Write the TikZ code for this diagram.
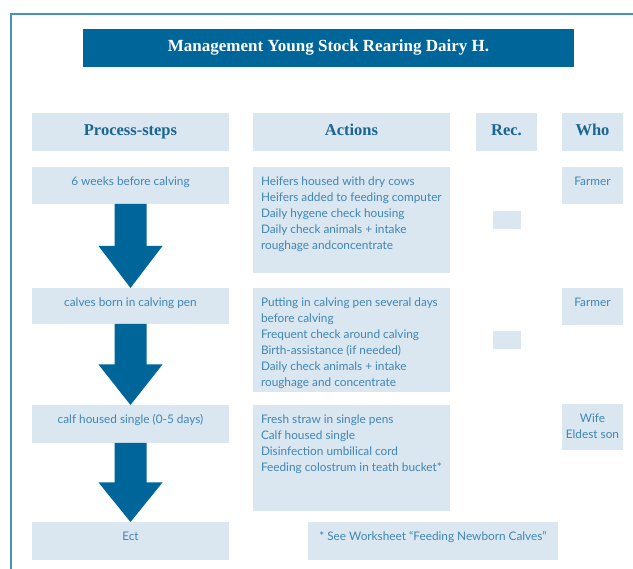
\documentclass[tikz,border=0pt]{standalone}
\usepackage{fontspec}
\setmainfont{Liberation Serif}
\newfontfamily\bodyfont{Lato}
\usetikzlibrary{calc}
\definecolor{frame line color}{HTML}{4A90BF}
\definecolor{title color}{HTML}{00669A}
\definecolor{cell color}{HTML}{DAE6F0}
\definecolor{header text color}{HTML}{1B6593}
\definecolor{body text color}{HTML}{3F86B3}
\tikzset{
    x={1pt},
    y={-1pt},
    frame line/.style={
        draw=frame line color,
        line width={1.5pt},
    },
    cell/.style 2 args={
        fill=cell color,
        draw=none,
        anchor=north west,
        inner sep=0pt,
        outer sep=0pt,
        minimum width={#1},
        minimum height={#2},
    },
    title box/.style 2 args={
        cell={#1}{#2},
        fill=title color,
        font={\bfseries\fontsize{17}{20}\selectfont},
        text=white,
        text height={11.5pt},
        text depth={3.5pt},
    },
    header/.style 2 args={
        cell={#1}{#2},
        font={\bfseries\fontsize{16.5}{20}\selectfont},
        text=header text color,
        text height={11.5pt},
        text depth={3.5pt},
    },
    body text/.style={
        font={\bodyfont\fontsize{11.8}{16}\selectfont},
        text=body text color,
        inner sep=0pt,
        outer sep=0pt,
    },
    process text/.style={
        body text,
        anchor=base,
        align=center,
        yshift=-18.5pt,
    },
    action text/.style={
        body text,
        anchor=north west,
        align=left,
        xshift=8pt,
        yshift=-9.8pt,
    },
    who text/.style={
        body text,
        anchor=north,
        align=center,
        yshift=-9.5pt,
    },
    block arrow/.style={
        fill=title color,
        draw=none,
    },
}

\begin{document}
\begin{tikzpicture}
\useasboundingbox (0,0) rectangle (633,569);
% frame
\draw[frame line] (11,569) -- (11,14) -- (633,14);
% title and headers
\node[title box={491}{38}] (title) at (83,29) {Management Young Stock Rearing Dairy H.};
\node[header={197}{38}] (hp) at (32,113) {Process-steps};
\node[header={197}{38}] (ha) at (253,113) {Actions};
\node[header={61}{38}] (hr) at (476,113) {Rec.};
\node[header={61}{38}] (hw) at (562,113) {Who};
% cells
\node[cell={197}{37}] (s1) at (32,167) {};
\node[cell={197}{36}] (s2) at (32,288) {};
\node[cell={197}{38}] (s3) at (32,405) {};
\node[cell={197}{38}] (s4) at (32,522) {};
\node[cell={197}{106}] (a1) at (253,167) {};
\node[cell={197}{104}] (a2) at (253,288) {};
\node[cell={197}{106}] (a3) at (253,405) {};
\node[cell={250}{38}] (note) at (308,522) {};
\node[cell={28}{18}] (r1) at (493,211) {};
\node[cell={28}{18}] (r2) at (493,331) {};
\node[cell={61}{37}] (w1) at (562,167) {};
\node[cell={61}{37}] (w2) at (562,288) {};
\node[cell={61}{46}] (w3) at (562,404) {};
% arrows
\foreach \from/\to in {s1/s2,s2/s3,s3/s4}
  \fill[block arrow] let \p1=(\from.south), \p2=(\to.north), \n1={(\y1+\y2)/2} in
    (\x1-16pt,\y1) -- (\x1+16pt,\y1) -- (\x1+16pt,\n1) -- (\x1+32pt,\n1)
    -- (\x2,\y2) -- (\x1-32pt,\n1) -- (\x1-16pt,\n1) -- cycle;
% texts
\node[process text] (s1 text) at (s1.north) {6 weeks before calving};
\node[process text] (s2 text) at (s2.north) {calves born in calving pen};
\node[process text] (s3 text) at (s3.north) {calf housed single (0-5 days)};
\node[process text] (s4 text) at (s4.north) {Ect};
\node[action text] (a1 text) at (a1.north west) {Heifers housed with dry cows\\Heifers added to feeding computer\\Daily hygene check housing\\Daily check animals + intake\\roughage andconcentrate};
\node[action text] (a2 text) at (a2.north west) {Putting in calving pen several days\\before calving\\Frequent check around calving\\Birth-assistance (if needed)\\Daily check animals + intake\\roughage and concentrate};
\node[action text] (a3 text) at (a3.north west) {Fresh straw in single pens\\Calf housed single\\Disinfection umbilical cord\\Feeding colostrum in teath bucket*};
\node[process text] (note text) at (note.north) {* See Worksheet “Feeding Newborn Calves”};
\node[process text] (w1 text) at (w1.north) {Farmer};
\node[process text] (w2 text) at (w2.north) {Farmer};
\node[who text] (w3 text) at (w3.north) {Wife\\Eldest son};
\end{tikzpicture}
\end{document}
